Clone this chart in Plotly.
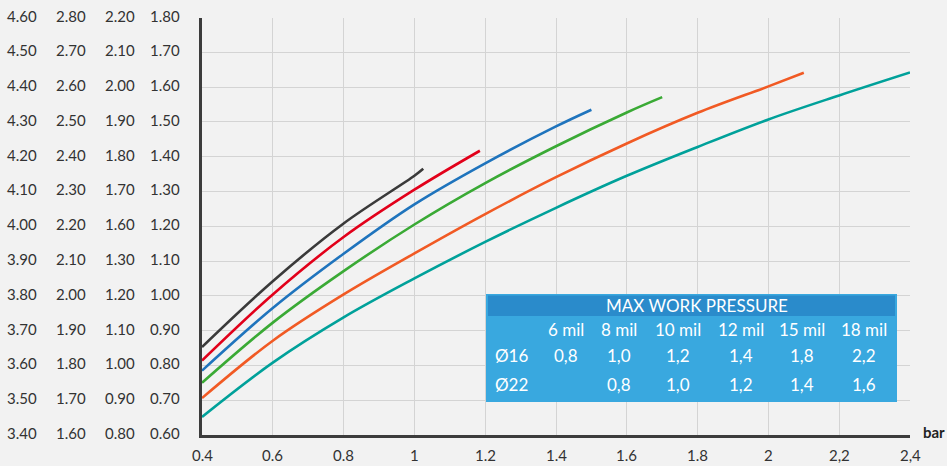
import plotly.graph_objects as go

# ---------------- data ----------------
x_tick_vals = [0.4, 0.6, 0.8, 1.0, 1.2, 1.4, 1.6, 1.8, 2.0, 2.2, 2.4]
x_tick_text = ["0.4", "0.6", "0.8", "1", "1.2", "1.4", "1.6", "1.8", "2", "2,2", "2,4"]
x_grid_vals = [0.6, 0.8, 1.0, 1.2, 1.4, 1.6, 1.8, 2.0, 2.2]

y_tick_vals = [0.6, 0.7, 0.8, 0.9, 1.0, 1.1, 1.2, 1.3, 1.4, 1.5, 1.6, 1.7, 1.8]
y_grid_vals = [0.7, 0.8, 0.9, 1.0, 1.1, 1.2, 1.3, 1.4, 1.5, 1.6, 1.7]
y_col1_text = ["3.40", "3.50", "3.60", "3.70", "3.80", "3.90", "4.00", "4.10", "4.20", "4.30", "4.40", "4.50", "4.60"]
y_col2_text = ["1.60", "1.70", "1.80", "1.90", "2.00", "2.10", "2.20", "2.30", "2.40", "2.50", "2.60", "2.70", "2.80"]
y_col3_text = ["0.80", "0.90", "1.00", "1.10", "1.20", "1.30", "1.60", "1.70", "1.80", "1.90", "2.00", "2.10", "2.20"]
y_col4_text = ["0.60", "0.70", "0.80", "0.90", "1.00", "1.10", "1.20", "1.30", "1.40", "1.50", "1.60", "1.70", "1.80"]

black_x = [0.4, 0.6, 0.8, 1.0, 1.025]
black_y = [0.853, 1.042, 1.208, 1.345, 1.365]
red_x = [0.4, 0.6, 0.8, 1.0, 1.185]
red_y = [0.814, 1.004, 1.169, 1.305, 1.417]
blue_x = [0.4, 0.6, 0.8, 1.0, 1.2, 1.4, 1.5]
blue_y = [0.785, 0.965, 1.121, 1.263, 1.381, 1.487, 1.535]
green_x = [0.4, 0.6, 0.8, 1.0, 1.2, 1.4, 1.6, 1.7]
green_y = [0.750, 0.923, 1.071, 1.205, 1.324, 1.430, 1.527, 1.571]
orange_x = [0.4, 0.6, 0.8, 1.0, 1.2, 1.4, 1.6, 1.8, 2.0, 2.1]
orange_y = [0.706, 0.871, 1.004, 1.122, 1.235, 1.341, 1.438, 1.526, 1.602, 1.641]
teal_x = [0.4, 0.6, 0.8, 1.0, 1.2, 1.4, 1.6, 1.8, 2.0, 2.2, 2.4]
teal_y = [0.652, 0.808, 0.938, 1.050, 1.155, 1.253, 1.345, 1.428, 1.507, 1.576, 1.642]

table_title = "MAX WORK PRESSURE"
table_cols = ["6 mil", "8 mil", "10 mil", "12 mil", "15 mil", "18 mil"]
table_rows = ["Ø16", "Ø22"]
table_d16 = ["0,8", "1,0", "1,2", "1,4", "1,8", "2,2"]
table_d22 = ["", "0,8", "1,0", "1,2", "1,4", "1,6"]
unit_label = "bar"

# ---------------- layout helpers ----------------
W, H = 947, 466
FONT = "Lato, 'Open Sans', sans-serif"
TICK_COLOR = "#333333"
AXIS_COLOR = "#3c3c3c"
GRID_COLOR = "#d4d4d4"
BG = "#f2f2f2"


def px(v):
    return v / W


def py(v):
    return 1 - v / H


series = [
    (black_x, black_y, "#3a3a3a"),
    (red_x, red_y, "#e2001a"),
    (blue_x, blue_y, "#1f74bd"),
    (green_x, green_y, "#3aaa35"),
    (orange_x, orange_y, "#f15a24"),
    (teal_x, teal_y, "#00a19a"),
]

fig = go.Figure()
for xs, ys, col in series:
    fig.add_trace(go.Scatter(x=xs, y=ys, mode="lines",
                             line=dict(color=col, width=2.6, shape="spline", smoothing=1.0),
                             showlegend=False, hoverinfo="skip"))

x_range = [x_tick_vals[0], x_tick_vals[-1]]
y_range = [y_tick_vals[0], y_tick_vals[-1]]
tickfont = dict(family=FONT, size=15, color=TICK_COLOR)
x_dom = [px(202), px(910)]
y_dom = [py(435), py(17.5)]

fig.update_layout(
    width=W, height=H,
    margin=dict(l=0, r=0, t=0, b=0),
    paper_bgcolor=BG, plot_bgcolor=BG,
    showlegend=False,
    xaxis=dict(domain=x_dom, range=x_range, tickmode="array", tickvals=x_grid_vals,
               showticklabels=True, ticktext=[""] * len(x_grid_vals),
               showline=True, linecolor=AXIS_COLOR, linewidth=3,
               showgrid=True, gridcolor=GRID_COLOR, gridwidth=1,
               zeroline=False, fixedrange=True),
    yaxis=dict(domain=y_dom, range=y_range, tickmode="array", tickvals=y_grid_vals,
               showticklabels=True, ticktext=[""] * len(y_grid_vals),
               showline=True, linecolor=AXIS_COLOR, linewidth=3,
               showgrid=True, gridcolor=GRID_COLOR, gridwidth=1,
               zeroline=False, fixedrange=True),
)

# x tick labels
for v, t in zip(x_tick_vals, x_tick_text):
    fig.add_annotation(text=t, xref="x", yref="paper", x=v, y=py(455),
                       xanchor="center", yanchor="middle", showarrow=False, font=tickfont)

# four columns of y tick labels (right edge in pixels)
for right_px, texts in [(39, y_col1_text), (88, y_col2_text), (137, y_col3_text), (182, y_col4_text)]:
    for v, t in zip(y_tick_vals, texts):
        fig.add_annotation(text=t, xref="paper", yref="y", x=px(right_px), y=v, yshift=2,
                           xanchor="right", yanchor="middle", showarrow=False, font=tickfont)

# small origin tick stubs
fig.add_shape(type="line", xref="x", yref="y", x0=x_range[0], x1=x_range[0],
              ysizemode="pixel", yanchor=y_range[0], y0=0, y1=-9,
              line=dict(color=AXIS_COLOR, width=3))
fig.add_shape(type="line", xref="x", yref="y", y0=y_range[0], y1=y_range[0],
              xsizemode="pixel", xanchor=x_range[0], x0=0, x1=-9,
              line=dict(color=AXIS_COLOR, width=3))

# unit label
fig.add_annotation(text="<b>" + unit_label + "</b>", xref="paper", yref="paper",
                   x=px(921), y=py(432), xanchor="left", yanchor="middle", showarrow=False,
                   font=dict(family=FONT, size=15, color="#222222"))

# pressure table box
fig.add_shape(type="rect", xref="paper", yref="paper", x0=px(486), x1=px(897),
              y0=py(402), y1=py(294), fillcolor="#39a8df", line=dict(width=0), layer="above")
fig.add_shape(type="rect", xref="paper", yref="paper", x0=px(488), x1=px(895),
              y0=py(316), y1=py(295.5), fillcolor="#2a8bcb", line=dict(width=0), layer="above")

tfont = dict(family=FONT, size=17, color="white")
fig.add_annotation(text=table_title, xref="paper", yref="paper", x=px(697), y=py(305.5),
                   xanchor="center", yanchor="middle", showarrow=False, font=tfont)
col_centers = [566, 619, 678, 741, 802, 864]
row_ys = [355, 384]
for cx, name in zip(col_centers, table_cols):
    fig.add_annotation(text=name, xref="paper", yref="paper", x=px(cx), y=py(329),
                       xanchor="center", yanchor="middle", showarrow=False, font=tfont)
for ry, rname, vals in zip(row_ys, table_rows, [table_d16, table_d22]):
    fig.add_annotation(text=rname, xref="paper", yref="paper", x=px(493), y=py(ry),
                       xanchor="left", yanchor="middle", showarrow=False, font=tfont)
    for cx, v in zip(col_centers, vals):
        if v:
            fig.add_annotation(text=v, xref="paper", yref="paper", x=px(cx), y=py(ry),
                               xanchor="center", yanchor="middle", showarrow=False, font=tfont)

fig.write_html("out.html", config={"displayModeBar": False},
               post_script="document.body.style.margin='0';document.body.style.overflow='hidden';")
